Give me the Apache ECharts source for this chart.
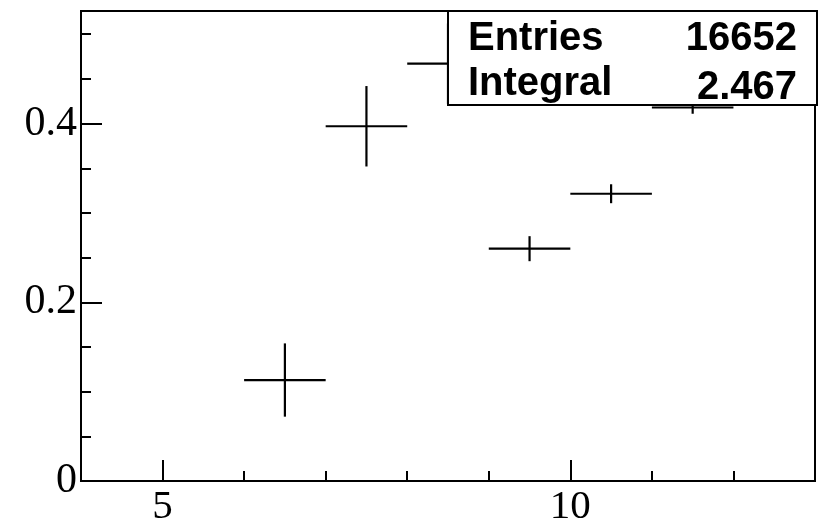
<!DOCTYPE html>
<html>
<head>
<meta charset="utf-8">
<script src="https://cdn.jsdelivr.net/npm/echarts@6/dist/echarts.min.js"></script>
<style>
html,body{margin:0;padding:0;background:#fff;}
#chart{width:818px;height:522px;}
</style>
</head>
<body>
<div id="chart"></div>
<script>
// Histogram bins (edges) and contents with errors
const binLow    = [6, 7, 8, 9, 10, 11, 12];
const binHigh   = [7, 8, 9, 10, 11, 12, 13];
const binValues = [0.113, 0.397, 0.467, 0.260, 0.3215, 0.418, 0.491];
const binErrors = [0.041, 0.045, 0.045, 0.014, 0.0106, 0.007, 0.010];

// Axis ticks / labels
const xMajorTicks = [5, 10];
const xMinorTicks = [6, 7, 8, 9, 11, 12];
const yMajorTicks = [0, 0.2, 0.4];
const yMinorTicks = [0.05, 0.1, 0.15, 0.25, 0.3, 0.35, 0.45, 0.5];

// Stats box text
const statsLabels = ['Entries', 'Integral'];
const statsValues = ['16652', '2.467'];

const chart = echarts.init(document.getElementById('chart'), null, {renderer: 'canvas'});

const data = binLow.map((lo, i) => [lo, binHigh[i], binValues[i], binErrors[i]]);

const serifFont = 'Liberation Serif';
const GRID = {left: 81, right: 3, top: 11, bottom: 41};

function errRender(params, api) {
  const lo = api.value(0), hi = api.value(1), v = api.value(2), e = api.value(3);
  const pL = api.coord([lo, v]);
  const pR = api.coord([hi, v]);
  const mid = api.coord([(lo + hi) / 2, v]);
  const pT = api.coord([(lo + hi) / 2, v + e]);
  const pB = api.coord([(lo + hi) / 2, v - e]);
  const style = {stroke: '#000', lineWidth: 2.2};
  return {
    type: 'group',
    children: [
      {type: 'line', shape: {x1: pL[0], y1: pL[1], x2: pR[0], y2: pR[1]}, style},
      {type: 'line', shape: {x1: mid[0], y1: pT[1], x2: mid[0], y2: pB[1]}, style}
    ]
  };
}

const xBase = {type: 'value', min: 4, max: 13, gridIndex: 0, position: 'bottom', splitLine: {show: false}};
const yBase = {type: 'value', min: 0, max: 0.526, gridIndex: 0, position: 'left', splitLine: {show: false}};

const option = {
  backgroundColor: '#fff',
  animation: false,
  grid: {left: GRID.left, right: GRID.right, top: GRID.top, bottom: GRID.bottom,
         containLabel: false, outerBoundsMode: 'none',
         show: true, borderColor: '#000', borderWidth: 2, backgroundColor: 'transparent'},
  xAxis: [
    Object.assign({}, xBase, {
      axisLine: {show: true, onZero: false, lineStyle: {color: '#000', width: 2}},
      axisTick: {show: true, inside: true, length: 21, lineStyle: {color: '#000', width: 2}, customValues: xMajorTicks},
      axisLabel: {show: true, margin: 6, color: '#000', fontFamily: serifFont, fontSize: 41,
                  customValues: xMajorTicks, formatter: v => String(v)}
    }),
    Object.assign({}, xBase, {
      axisLine: {show: false, onZero: false},
      axisTick: {show: true, inside: true, length: 10, lineStyle: {color: '#000', width: 2}, customValues: xMinorTicks},
      axisLabel: {show: false}
    })
  ],
  yAxis: [
    Object.assign({}, yBase, {
      axisLine: {show: true, onZero: false, lineStyle: {color: '#000', width: 2}},
      axisTick: {show: true, inside: true, length: 21, lineStyle: {color: '#000', width: 2}, customValues: yMajorTicks},
      axisLabel: {show: true, margin: 4, color: '#000', fontFamily: serifFont, fontSize: 42,
                  customValues: yMajorTicks, formatter: v => (v === 0 ? '0' : String(v))}
    }),
    Object.assign({}, yBase, {
      axisLine: {show: false, onZero: false},
      axisTick: {show: true, inside: true, length: 10, lineStyle: {color: '#000', width: 2}, customValues: yMinorTicks},
      axisLabel: {show: false}
    })
  ],
  series: [{
    type: 'custom',
    xAxisIndex: 0,
    yAxisIndex: 0,
    renderItem: errRender,
    data: data,
    clip: true,
    z: 2
  }],
  graphic: [
    {type: 'rect', z: 100, shape: {x: 448, y: 11, width: 369, height: 94},
     style: {fill: '#fff', stroke: '#000', lineWidth: 2}},
    {type: 'text', z: 101, x: 468, y: 59,
     style: {text: statsLabels[0], fill: '#000', font: 'bold 40px "Liberation Sans"', textAlign: 'left', textVerticalAlign: 'bottom'}},
    {type: 'text', z: 101, x: 468, y: 104,
     style: {text: statsLabels[1], fill: '#000', font: 'bold 40px "Liberation Sans"', textAlign: 'left', textVerticalAlign: 'bottom'}},
    {type: 'text', z: 101, x: 797, y: 59,
     style: {text: statsValues[0], fill: '#000', font: 'bold 40px "Liberation Sans"', textAlign: 'right', textVerticalAlign: 'bottom'}},
    {type: 'text', z: 101, x: 797, y: 108,
     style: {text: statsValues[1], fill: '#000', font: 'bold 40px "Liberation Sans"', textAlign: 'right', textVerticalAlign: 'bottom'}}
  ]
};

chart.setOption(option);
</script>
</body>
</html>
